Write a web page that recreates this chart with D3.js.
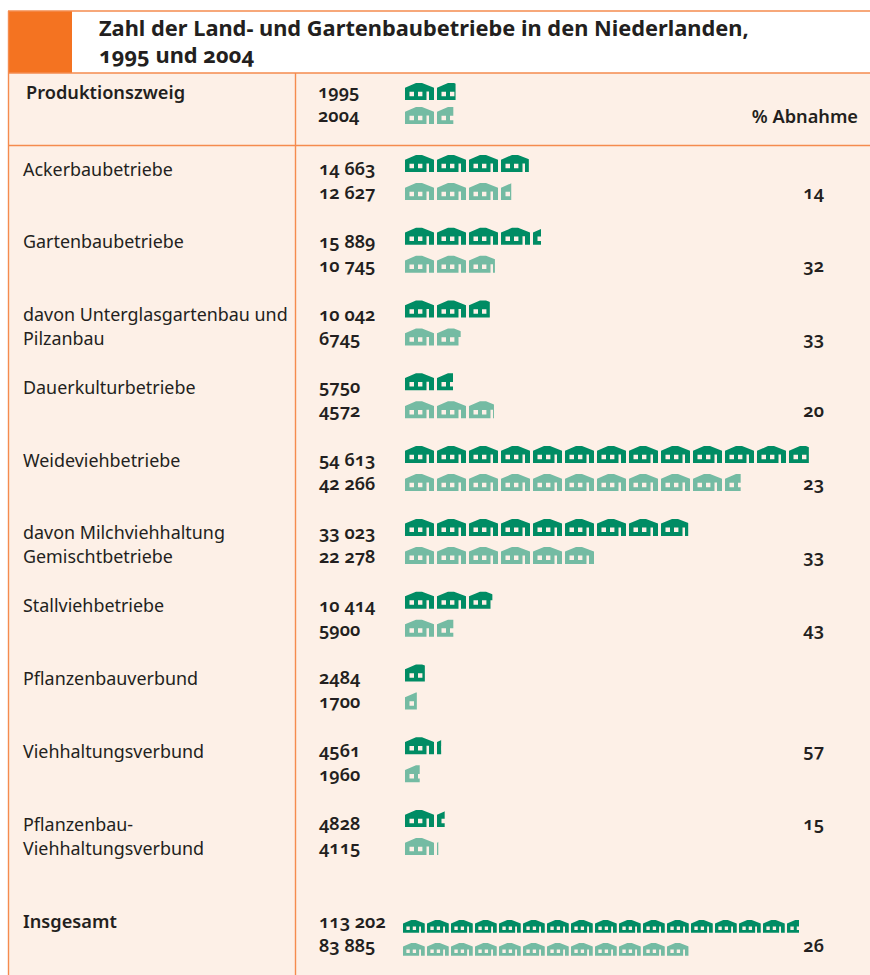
<!DOCTYPE html>
<html>
<head>
<meta charset="utf-8">
<title>Zahl der Land- und Gartenbaubetriebe</title>
<script src="https://cdn.jsdelivr.net/npm/d3@7"></script>
<style>
	html, body { margin: 0; background: #fff; }
	text { font-family: "Noto Sans", sans-serif; fill: #231f20; font-variant-numeric: oldstyle-nums; }
	.lab { font-size: 17.9px; }
	.num { font-size: 18.2px; font-weight: 600; }
</style>
</head>
<body>
<script>
const titleLines = ["Zahl der Land- und Gartenbaubetriebe in den Niederlanden,", "1995 und 2004"];
const legendYears = ["1995", "2004"];
const legendIcons = [1.58, 1.51];

const rowLabels = [
	["Ackerbaubetriebe"],
	["Gartenbaubetriebe"],
	["davon Unterglasgartenbau und", "Pilzanbau"],
	["Dauerkulturbetriebe"],
	["Weideviehbetriebe"],
	["davon Milchviehhaltung", "Gemischtbetriebe"],
	["Stallviehbetriebe"],
	["Pflanzenbauverbund"],
	["Viehhaltungsverbund"],
	["Pflanzenbau-", "Viehhaltungsverbund"]
];
const values1995 = ["14 663", "15 889", "10 042", "5750", "54 613", "33 023", "10 414", "2484", "4561", "4828"];
const values2004 = ["12 627", "10 745", "6745", "4572", "42 266", "22 278", "5900", "1700", "1960", "4115"];
const abnahme = ["14", "32", "33", "20", "23", "33", "43", "", "57", "15"];
// rows where the percentage sits on the 1995 line instead of the 2004 line
const abnahmeOnTop = [false, false, false, false, false, false, false, false, true, true];

// length of each pictogram row, counted in houses as drawn in the picture
const icons1995 = [3.87, 4.25, 2.65, 1.5, 12.62, 8.85, 2.73, 0.62, 1.13, 1.24];
const icons2004 = [3.32, 2.81, 1.74, 2.78, 10.49, 5.91, 1.51, 0.37, 0.46, 1.04];

const totalLabel = "Insgesamt";
const totalValues = ["113 202", "83 885"];
const totalIcons = [16.5, 11.9];
const totalAbnahme = "26";

const width = 870, height = 975;
const orange = "#f47321", line = "#f58b4e", peach = "#fdf0e7";
const dark = "#008c64", light = "#74bba3";

const svg = d3.select("body").append("svg")
	.attr("width", width)
	.attr("height", height)
	.style("display", "block");

// panel and rules
svg.append("rect").attr("x", 8).attr("y", 73).attr("width", width - 8).attr("height", height - 73).attr("fill", peach);
svg.append("rect").attr("x", 8).attr("y", 11).attr("width", 64).attr("height", 62).attr("fill", orange);
[[8, 11, width, 11], [8, 73, width, 73], [8, 145.5, width, 145.5], [8.5, 11, 8.5, height], [295.5, 73, 295.5, height]]
	.forEach(d => {
		svg.append("line")
			.attr("x1", d[0]).attr("y1", d[1]).attr("x2", d[2]).attr("y2", d[3])
			.attr("stroke", line).attr("stroke-width", 1.4);
	});

// title
svg.append("g").selectAll("text").data(titleLines).join("text")
	.attr("x", 99)
	.attr("y", (d, i) => 36 + i * 27)
	.attr("font-size", 21.8)
	.attr("font-weight", 700)
	.text(d => d);

// house drawn in a 29 x 17 box, door and windows cut out with evenodd
const housePath = "M0 4.7L11 0H17L29 4.7V17H24V8.5H21.5V17H0Z M4.5 8.7V13.2H9V8.7Z M13 8.7V13.2H17.4V8.7Z";

const rowY = d3.scalePoint().domain(d3.range(rowLabels.length)).range([0, 655]);
const pitch = d3.scaleLinear().domain([0, 1]).range([0, 32]);
const pitchTotal = d3.scaleLinear().domain([0, 1]).range([0, 24]);

let clipId = 0;
function houses(x, y, count, color, scale) {
	const id = "clip" + clipId++;
	const k = (scale(1) - scale(0)) / 32;
	svg.append("clipPath").attr("id", id).append("rect")
		.attr("x", x).attr("y", y - 1)
		.attr("width", scale(count)).attr("height", 20);
	svg.append("g")
		.attr("clip-path", `url(#${id})`)
		.selectAll("path")
		.data(d3.range(Math.ceil(count)))
		.join("path")
		.attr("d", housePath)
		.attr("fill", color)
		.attr("fill-rule", "evenodd")
		.attr("transform", d => `translate(${x + scale(d)} ${y}) scale(${k})`);
}

// header row
svg.append("text").attr("x", 26).attr("y", 99).attr("class", "num").text("Produktionszweig");
legendYears.forEach((d, i) => {
	svg.append("text").attr("x", 318).attr("y", 98 + i * 23.5).attr("class", "num").text(d);
	houses(405, 83 + i * 24, legendIcons[i], i ? light : dark, pitch);
});
svg.append("text").attr("x", 858).attr("y", 123).attr("class", "num").attr("text-anchor", "end").text("% Abnahme");

// rows
rowLabels.forEach((lines, i) => {
	const y = rowY(i);
	lines.forEach((t, j) => {
		svg.append("text").attr("x", 23).attr("y", 175.5 + y + j * 24).attr("class", "lab").text(t);
	});
	svg.append("text").attr("x", 319).attr("y", 175 + y).attr("class", "num").text(values1995[i]);
	svg.append("text").attr("x", 319).attr("y", 199 + y).attr("class", "num").text(values2004[i]);
	houses(405, 155 + y, icons1995[i], dark, pitch);
	houses(405, 183 + y, icons2004[i], light, pitch);
	svg.append("text")
		.attr("x", 824)
		.attr("y", (abnahmeOnTop[i] ? 175 : 199) + y)
		.attr("class", "num")
		.attr("text-anchor", "end")
		.text(abnahme[i]);
});

// total row
svg.append("text").attr("x", 23).attr("y", 928).attr("class", "num").text(totalLabel);
totalValues.forEach((d, i) => {
	svg.append("text").attr("x", 319).attr("y", 928 + i * 24).attr("class", "num").text(d);
	houses(403, 920 + i * 23, totalIcons[i], i ? light : dark, pitchTotal);
});
svg.append("text").attr("x", 824).attr("y", 952).attr("class", "num").attr("text-anchor", "end").text(totalAbnahme);
</script>
</body>
</html>
